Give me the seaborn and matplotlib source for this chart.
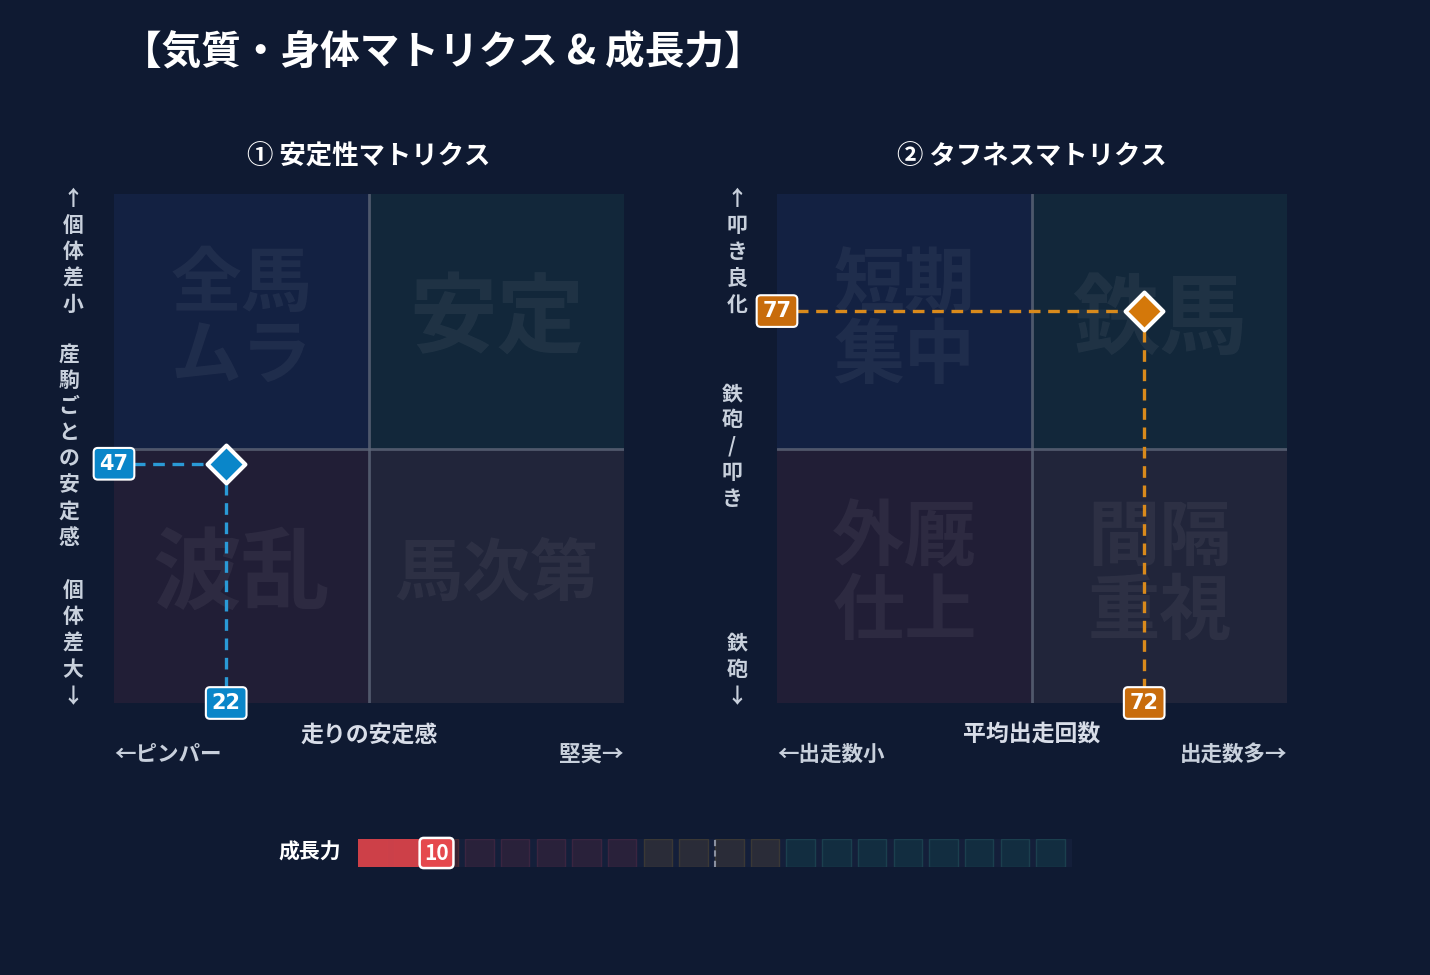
import matplotlib
matplotlib.use("Agg")
import matplotlib.pyplot as plt
import seaborn as sns
import pandas as pd

# data
title = "【気質・身体マトリクス & 成長力】"
panel_titles = ["① 安定性マトリクス", "② タフネスマトリクス"]
x_labels = ["走りの安定感", "平均出走回数"]
x_left = ["←ピンパー", "←出走数小"]
x_right = ["堅実→", "出走数多→"]
y_top = ["↑個体差小", "↑叩き良化"]
y_mid = ["産駒ごとの安定感", "鉄砲/叩き"]
y_bottom = ["個体差大↓", "鉄砲↓"]
quad_labels = [
    ["全馬\nムラ", "安定", "波乱", "馬次第"],
    ["短期\n集中", "鉄馬", "外厩\n仕上", "間隔\n重視"],
]
quad_sizes = [[51, 63, 64, 49], [51, 63, 52, 52]]
point_x = [22, 72]
point_y = [47, 77]
point_colors = ["#0a86c9", "#d4780a"]
line_colors = ["#2a9ad6", "#d98a1c"]
box_colors = ["#0a86c9", "#c86c0c"]
growth_label = "成長力"
growth_value = 10
growth_cells = ["#3a2232"] * 3 + ["#29213a"] * 5 + ["#2a2c38"] * 4 + ["#122d40"] * 8
growth_edges = ["#4a2a35"] * 3 + ["#3a2540"] * 5 + ["#3a3835"] * 4 + ["#1b3f4e"] * 8

BG = "#0f1a32"
QUAD_COLORS = ["#132142", "#12273a", "#211e36", "#21253a"]
TEXT = "#d8dde8"

sns.set_theme(style="dark", rc={"figure.facecolor": BG, "axes.facecolor": BG})
plt.rcParams["font.family"] = ["Noto Sans CJK JP", "DejaVu Sans"]

W, H = 1430, 975
fig = plt.figure(figsize=(W / 100, H / 100), dpi=100)


def px(x0, y0, w, h):
    return [x0 / W, 1 - (y0 + h) / H, w / W, h / H]


fig.text(122 / W, 1 - 53 / H, title, color="white", fontsize=28.5, fontweight="bold",
         ha="left", va="center")

lefts = [114, 777]
for i in range(2):
    ax = fig.add_axes(px(lefts[i], 194, 510, 509))
    ax.set_xlim(0, 100)
    ax.set_ylim(0, 100)
    ax.set_axis_off()
    # quadrants
    ax.bar([25, 75, 25, 75], [50, 50, 50, 50], bottom=[50, 50, 0, 0], width=50,
           color=QUAD_COLORS, linewidth=0, zorder=0)
    ax.axvline(50, color="#5d6578", lw=2, alpha=0.8, zorder=1)
    ax.axhline(50, color="#5d6578", lw=2, alpha=0.8, zorder=1)
    qx = [25, 75, 25, 75]
    qy = [75, 75, 25, 25]
    for k in range(4):
        ax.text(qx[k], qy[k], quad_labels[i][k], ha="center", va="center",
                fontsize=quad_sizes[i][k], fontweight="bold", color="white",
                alpha=0.055, linespacing=1.0, zorder=1)
    x, y = point_x[i], point_y[i]
    ax.plot([0, x], [y, y], color=line_colors[i], lw=2.4, ls=(0, (3.5, 2.3)), zorder=2)
    ax.plot([x, x], [y, 0], color=line_colors[i], lw=2.4, ls=(0, (3.5, 2.3)), zorder=2)
    df = pd.DataFrame({"x": [x], "y": [y]})
    sns.scatterplot(data=df, x="x", y="y", ax=ax, marker="D", s=370, color=point_colors[i],
                    edgecolor="white", linewidth=3, zorder=5, clip_on=False)
    ax.set_axis_off()
    for tx, ty, val in [(0, y, y), (x, 0, x)]:
        ax.text(tx, ty, str(val), ha="center", va="center", fontsize=15,
                fontweight="bold", color="white", zorder=6, clip_on=False,
                family="DejaVu Sans",
                bbox=dict(boxstyle="round,pad=0.28,rounding_size=0.2",
                          fc=box_colors[i], ec="white", lw=1.5))

    cx = lefts[i] + 255
    fig.text(cx / W, 1 - 157 / H, panel_titles[i], color="white", fontsize=19,
             fontweight="bold", ha="center", va="center")
    fig.text(cx / W, 1 - 735 / H, x_labels[i], color=TEXT, fontsize=16.5,
             fontweight="bold", ha="center", va="center")
    fig.text(lefts[i] / W, 1 - 754 / H, x_left[i], color="#c8d0dc", fontsize=15.5,
             fontweight="bold", ha="left", va="center")
    fig.text((lefts[i] + 510) / W, 1 - 754 / H, x_right[i], color="#c8d0dc",
             fontsize=15.5, fontweight="bold", ha="right", va="center")

    yx = [73, 737][i]
    mx = [69, 732][i]
    fig.text(yx / W, 1 - 188 / H, "\n".join(y_top[i]), color="#c8d0dc", fontsize=15,
             fontweight="bold", ha="center", va="top", linespacing=1.33)
    fig.text(mx / W, 1 - 446 / H, "\n".join(y_mid[i]), color="#c8d0dc",
             fontsize=15, fontweight="bold", ha="center", va="center", linespacing=1.3)
    fig.text(yx / W, 1 - 707 / H, "\n".join(y_bottom[i]), color="#c8d0dc",
             fontsize=15, fontweight="bold", ha="center", va="bottom", linespacing=1.33)

# growth bar
gax = fig.add_axes(px(358, 839, 714, 28))
gax.set_xlim(0, 100)
gax.set_ylim(0, 1)
gax.set_axis_off()
gax.bar([50], [1], width=100, color="#141f3a", linewidth=0, zorder=0)
centers = [i * 5 + 2 for i in range(len(growth_cells))]
gax.bar(centers, [1] * len(centers), width=4, color=growth_cells,
        edgecolor=growth_edges, linewidth=1, zorder=1)
gax.bar([growth_value / 2 + 1], [1], width=growth_value + 2, color="#d6424a",
        alpha=0.95, linewidth=0, zorder=2)
gax.plot([50, 50], [0, 1], color="#8a90a0", lw=1.5, ls=(0, (3, 2)), zorder=3)
gax.text(growth_value + 1, 0.5, str(growth_value), ha="center", va="center",
         fontsize=15, fontweight="bold", color="white", zorder=6, clip_on=False,
         bbox=dict(boxstyle="round,pad=0.22,rounding_size=0.2", fc="#e5484d",
                   ec="white", lw=1.8))
fig.text(310 / W, 1 - 852 / H, growth_label, color="white", fontsize=15,
         fontweight="bold", ha="center", va="center")

fig.savefig("out.png", dpi=100, facecolor=BG)
